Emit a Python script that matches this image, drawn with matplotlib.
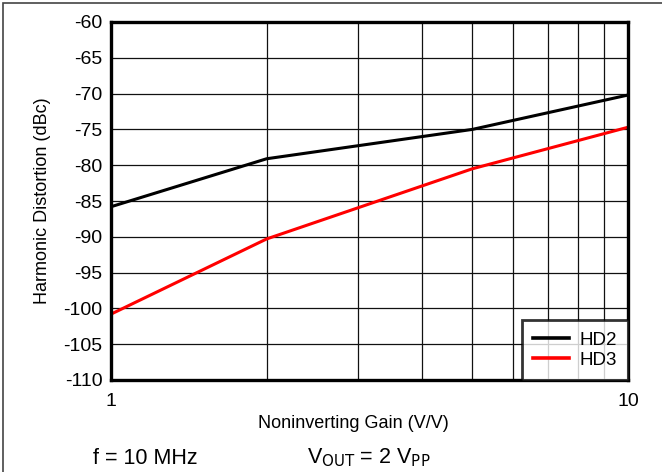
import matplotlib.pyplot as plt
from matplotlib.patches import Rectangle
from matplotlib.ticker import FixedLocator, NullFormatter

plt.rcParams['font.family'] = ['Liberation Sans', 'DejaVu Sans']
plt.rcParams['axes.unicode_minus'] = False

# gain points (V/V) and distortion values (dBc)
gain = [1, 2, 5, 10]
hd2 = [-85.8, -79.1, -75.0, -70.2]
hd3 = [-100.8, -90.3, -80.5, -74.7]
yticks = list(range(-110, -59, 5))

W, H = 662, 472
fig = plt.figure(figsize=(W / 100, H / 100), dpi=100)
ax = fig.add_axes([111 / W, 1 - 380 / H, 517 / W, 358 / H])

ax.plot(gain, hd2, color='black', linewidth=2.2, label='HD2')
ax.plot(gain, hd3, color='#ff0000', linewidth=2.2, label='HD3')

ax.set_xscale('log')
ax.set_xlim(1, 10)
ax.set_ylim(-110, -60)
ax.set_yticks(yticks)
ax.set_xticks([1, 10])
ax.set_xticklabels(['1', '10'])
ax.xaxis.set_minor_locator(FixedLocator(range(2, 10)))
ax.xaxis.set_minor_formatter(NullFormatter())
ax.tick_params(which='both', length=0, labelsize=14)
ax.tick_params(axis='y', pad=6)
ax.tick_params(axis='x', pad=9)
ax.grid(True, which='both', color='#111111', linewidth=0.9)
ax.set_axisbelow(True)
for s in ax.spines.values():
    s.set_linewidth(2.4)

ax.set_xlabel('Noninverting Gain (V/V)', fontsize=13)
ax.set_ylabel('Harmonic Distortion (dBc)', fontsize=13)
ax.xaxis.set_label_coords((353 - 111) / 517, -(423 - 380) / 358)
ax.yaxis.set_label_coords(-(111 - 43) / 517, 0.5)
ax.xaxis.label.set_va('center')
ax.yaxis.label.set_va('center')

leg = ax.legend(loc='lower right', fontsize=13.5, frameon=True, fancybox=False,
                borderaxespad=0, handlelength=1.9, borderpad=0.6, labelspacing=0.15,
                handletextpad=0.55)
leg.get_frame().set_edgecolor('black')
leg.get_frame().set_linewidth(2)
for line in leg.get_lines():
    line.set_linewidth(2.6)

fig.text(93 / W, 1 - 458 / H, 'f = 10 MHz', fontsize=15.5, va='center')
fig.text(307 / W, 1 - 458 / H, r'V$_{\mathrm{OUT}}$ = 2 V$_{\mathrm{PP}}$', fontsize=15.5, va='center')

fig.patches.append(Rectangle((3 / W, -0.1), 1.2, 1 - 3 / H + 0.1, transform=fig.transFigure,
                             fill=False, edgecolor='#444444', linewidth=1.2))

fig.savefig('out.png', dpi=100)
